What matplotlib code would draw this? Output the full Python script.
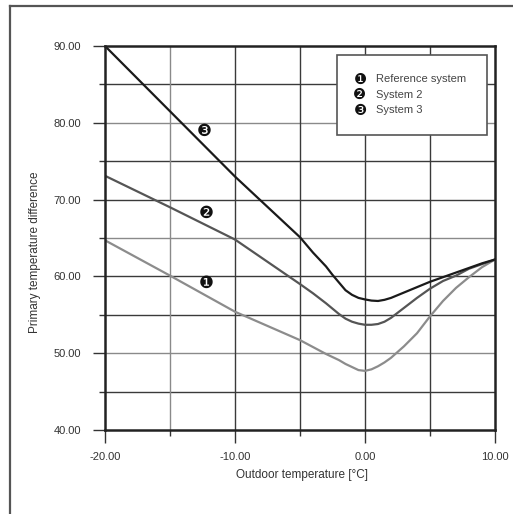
import matplotlib
matplotlib.use("Agg")
import matplotlib.pyplot as plt
from matplotlib.lines import Line2D
from matplotlib.patches import Rectangle

plt.rcParams['font.family'] = ['Liberation Sans', 'DejaVu Sans']

# ---- data ----
x_vals = [-20, -15, -10, -5, -4, -3, -2.5, -2, -1.5, -1, -0.5, 0, 0.5, 1, 1.5, 2, 3, 4,
          5, 6, 7, 8, 9, 10]
system3 = [90.0, 81.5, 73.0, 65.1, 63.1, 61.3, 60.2, 59.2, 58.2, 57.6, 57.2, 57.0, 56.85,
           56.8, 56.95, 57.2, 57.9, 58.6, 59.3, 59.9, 60.5, 61.1, 61.7, 62.2]
system2 = [73.1, 69.0, 64.8, 59.0, 57.8, 56.5, 55.8, 55.1, 54.5, 54.1, 53.85, 53.7, 53.7,
           53.8, 54.1, 54.6, 55.9, 57.2, 58.4, 59.4, 60.1, 61.0, 61.6, 62.2]
reference = [64.7, 60.1, 55.4, 51.7, 50.8, 49.9, 49.5, 49.1, 48.6, 48.2, 47.8, 47.7, 47.9,
             48.3, 48.8, 49.4, 50.9, 52.6, 54.8, 56.8, 58.5, 59.9, 61.2, 62.2]

series_names = ["Reference system", "System 2", "System 3"]
series_marks = ["\u2776", "\u2777", "\u2778"]
label_pos_x = [-12.25, -12.25, -12.4]
label_pos_y = [59.1, 68.3, 78.9]

x_ticks = [-20, -10, 0, 10]
y_ticks = [40, 50, 60, 70, 80, 90]

# ---- figure ----
W, H = 513, 514
fig = plt.figure(figsize=(W / 100, H / 100), dpi=100)
fig.patch.set_facecolor('white')

# outer frame
fig.add_artist(Line2D([10 / W, 10 / W], [0, 1 - 6 / H], transform=fig.transFigure,
                      color='#555555', lw=1.6))
fig.add_artist(Line2D([10 / W, 1], [1 - 6 / H, 1 - 6 / H], transform=fig.transFigure,
                      color='#555555', lw=1.6))

ax = fig.add_axes([105 / W, 1 - 430 / H, 390 / W, 384 / H])
ax.set_xlim(-20, 10)
ax.set_ylim(40, 90)

# grid
dark = '#3a3a3a'
light = '#8a8a8a'
for yv in [45, 50, 55, 60, 65, 70, 75, 80, 85]:
    c = light if yv in (50, 65, 80) else dark
    ax.axhline(yv, color=c, lw=1.0, zorder=1)
for xv in [-15, -10, -5, 0, 5]:
    c = light if xv == -15 else dark
    ax.axvline(xv, color=c, lw=1.0, zorder=1)

# curves
ax.plot(x_vals, reference, color='#8c8c8c', lw=1.6, zorder=3, solid_joinstyle='round')
ax.plot(x_vals, system2, color='#555555', lw=1.6, zorder=3, solid_joinstyle='round')
ax.plot(x_vals, system3, color='#1a1a1a', lw=1.6, zorder=3, solid_joinstyle='round')

for m, lx, ly in zip(series_marks, label_pos_x, label_pos_y):
    ax.text(lx, ly, m, fontsize=12, ha='center', va='center', color='#111111',
            family=['DejaVu Sans'], zorder=4)

# spines
for s in ax.spines.values():
    s.set_color('#222222')
    s.set_linewidth(1.8)
    s.set_zorder(5)

ax.set_xticks(x_ticks)
ax.set_xticklabels([f"{v:.2f}" for v in x_ticks])
ax.set_yticks(y_ticks)
ax.set_yticklabels([f"{v:.2f}" for v in y_ticks])
ax.set_xticks([-15, -5, 5], minor=True)
ax.set_yticks([45, 55, 65, 75, 85], minor=True)
ax.tick_params(axis='both', which='major', length=9, width=1.0, color='#333333',
               labelsize=8, labelcolor='#333333', direction='out')
ax.tick_params(axis='both', which='minor', length=4, width=1.0, color='#333333',
               direction='out')
ax.tick_params(axis='x', which='major', pad=7)
ax.tick_params(axis='y', which='major', pad=8)

fig.text(302 / W, 1 - 475 / H, "Outdoor temperature [\u00b0C]", fontsize=8.5,
         color='#333333', ha='center', va='center')
fig.text(35 / W, 1 - 252 / H, "Primary temperature difference", fontsize=8.5,
         color='#333333', ha='center', va='center', rotation=90)

# legend box
fig.add_artist(Rectangle((337 / W, 1 - 135 / H), (487 - 337) / W, (135 - 55) / H,
                         transform=fig.transFigure, facecolor='white',
                         edgecolor='#555555', lw=1.2, zorder=6))
for i, (m, name) in enumerate(zip(series_marks, series_names)):
    yy = 1 - (79.5 + i * 15.3) / H
    fig.text(360 / W, yy, m, fontsize=10.5, ha='center', va='center', color='#111111',
             family=['DejaVu Sans'], zorder=7)
    fig.text(376 / W, yy, name, fontsize=8, ha='left', va='center', color='#444444',
             zorder=7)

fig.savefig("out.png", dpi=100)
